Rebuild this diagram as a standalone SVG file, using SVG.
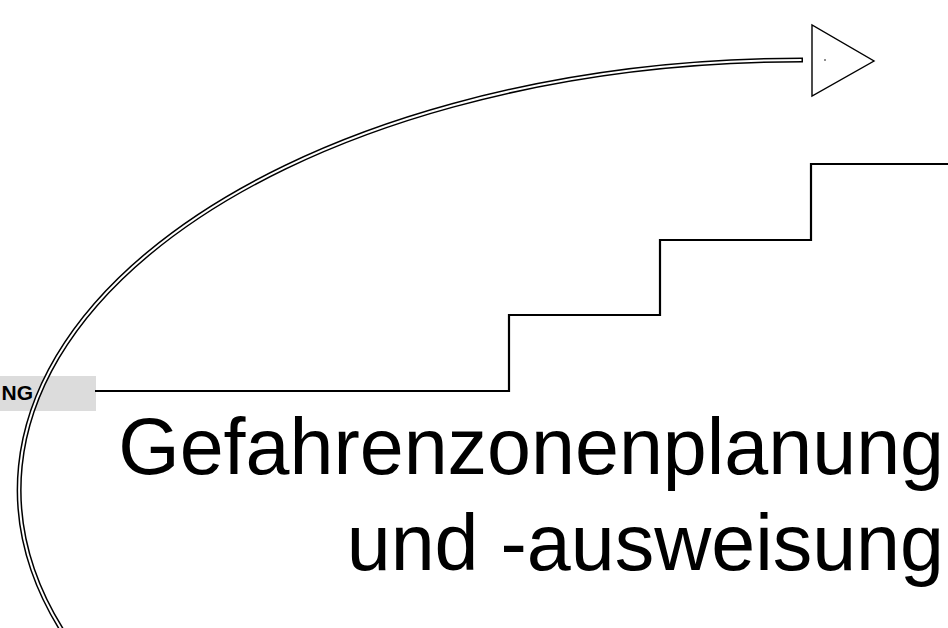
<svg xmlns="http://www.w3.org/2000/svg" width="948" height="628" viewBox="0 0 948 628">
  <style>
    .band-outer { fill: none; stroke: #000; stroke-width: 5; }
    .band-inner { fill: none; stroke: #fff; stroke-width: 2; }
    .stair { fill: none; stroke: #000; stroke-width: 2.2; }
    .tri { fill: #fff; stroke: #000; stroke-width: 1.4; stroke-linejoin: miter; }
    .title { font-family: "Liberation Sans", Arial, sans-serif; font-size: 79px; fill: #000; }
    .tag { font-family: "Liberation Sans", Arial, sans-serif; font-size: 21px; font-weight: bold; fill: #000; }
  </style>
  <rect width="948" height="628" fill="#fff"/>
  <g id="label-box">
    <rect x="0" y="376" width="96" height="35" fill="#dcdcdc"/>
    <text class="tag" x="33" y="400" text-anchor="end">NG</text>
  </g>
  <g id="connectors">
    <polyline class="stair" points="95,391 509,391 509,315 660,315 660,240 811,240 811,164 948,164"/>
    <path class="band-outer" d="M 83 660 A 784 430 0 0 1 803 60"/>
    <path class="band-inner" d="M 83 660 A 784 430 0 0 1 801.5 60"/>
  </g>
  <g id="arrow-head">
    <polygon class="tri" points="812,25 812,96 874,61"/>
    <circle cx="825" cy="60" r="0.8" fill="#000"/>
  </g>
  <g id="title">
    <text class="title" x="944" y="474" text-anchor="end">Gefahrenzonenplanung</text>
    <text class="title" x="944" y="570" text-anchor="end">und -ausweisung</text>
  </g>
</svg>
